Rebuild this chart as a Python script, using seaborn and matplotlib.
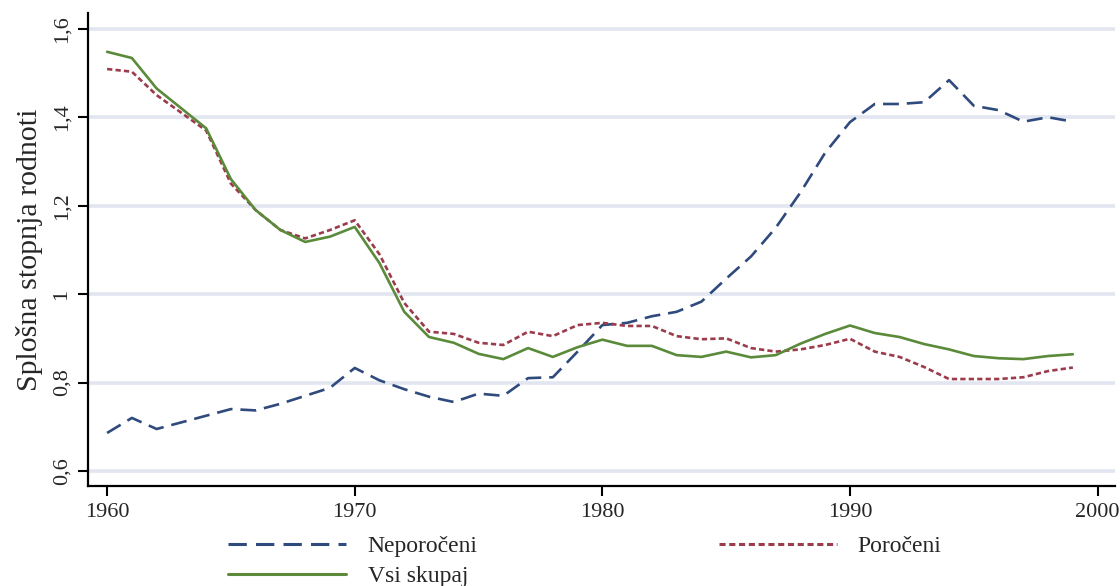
import pandas as pd
import seaborn as sns
import matplotlib.pyplot as plt
from matplotlib.lines import Line2D

years = list(range(1960, 2000))

neporoceni = [0.686, 0.72, 0.695, 0.71, 0.725, 0.74, 0.737, 0.752, 0.77, 0.788,
              0.833, 0.805, 0.785, 0.768, 0.756, 0.775, 0.77, 0.81, 0.812, 0.87,
              0.93, 0.935, 0.95, 0.96, 0.983, 1.035, 1.085, 1.15, 1.23, 1.32,
              1.389, 1.43, 1.43, 1.434, 1.484, 1.426, 1.416, 1.39, 1.40, 1.39]

poroceni = [1.509, 1.503, 1.45, 1.41, 1.37, 1.25, 1.19, 1.145, 1.126, 1.145,
            1.167, 1.09, 0.98, 0.915, 0.91, 0.89, 0.885, 0.915, 0.905, 0.93,
            0.935, 0.928, 0.928, 0.905, 0.898, 0.90, 0.878, 0.87, 0.875, 0.885,
            0.899, 0.87, 0.858, 0.835, 0.808, 0.808, 0.808, 0.812, 0.826, 0.834]

vsi_skupaj = [1.548, 1.534, 1.465, 1.42, 1.375, 1.26, 1.19, 1.145, 1.118, 1.13,
              1.152, 1.07, 0.96, 0.903, 0.89, 0.865, 0.853, 0.878, 0.858, 0.88,
              0.897, 0.883, 0.883, 0.862, 0.858, 0.87, 0.857, 0.862, 0.888, 0.91,
              0.929, 0.912, 0.903, 0.887, 0.875, 0.86, 0.855, 0.853, 0.86, 0.864]

series_names = ["Neporočeni", "Poročeni", "Vsi skupaj"]
x_ticks = [1960, 1970, 1980, 1990, 2000]
y_ticks = [0.6, 0.8, 1.0, 1.2, 1.4, 1.6]
y_tick_labels = ["0,6", "0,8", "1", "1,2", "1,4", "1,6"]
y_label = "Splošna stopnja rodnoti"

colors = {"Neporočeni": "#2f4a7c", "Poročeni": "#9c3b4b", "Vsi skupaj": "#5a8a3a"}
dashes = {"Neporočeni": (6, 3), "Poročeni": (2, 1.2), "Vsi skupaj": ""}


def main():
    df = pd.DataFrame({
        "year": years * 3,
        "value": neporoceni + poroceni + vsi_skupaj,
        "series": [s for s in series_names for _ in years],
    })

    sns.set_style("ticks")
    plt.rcParams["font.family"] = ["Liberation Serif", "DejaVu Serif"]

    fig = plt.figure(figsize=(11.2, 5.86), dpi=100)
    ax = fig.add_axes([0.0786, 0.1706, 0.9169, 0.8074])

    for y in y_ticks:
        ax.axhline(y, color="#e2e6f1", lw=2.6, zorder=0)

    sns.lineplot(data=df, x="year", y="value", hue="series", style="series",
                 palette=colors, dashes=dashes, lw=1.9, legend=False, ax=ax)

    ax.set_xlim(1959.23, 2000.7)
    ax.set_ylim(0.566, 1.636)
    ax.set_xticks(x_ticks)
    ax.set_yticks(y_ticks)
    ax.set_yticklabels(y_tick_labels, rotation=90, va="center")
    ax.tick_params(axis="both", labelsize=16, length=7, width=1.5, color="black",
                   direction="out", pad=5)
    ax.set_xlabel("")
    ax.set_ylabel(y_label, fontsize=21.5, labelpad=7)
    sns.despine(ax=ax)
    for side in ["left", "bottom"]:
        ax.spines[side].set_linewidth(1.6)
        ax.spines[side].set_color("black")

    handles = {}
    for s in series_names:
        handles[s] = Line2D([], [], color=colors[s], lw=2.2,
                            dashes=dashes[s] if dashes[s] else (None, None))
    order = ["Neporočeni", "Vsi skupaj", "Poročeni"]
    ax.legend([handles[s] for s in order], order, ncol=2, frameon=False,
              loc="upper center", bbox_to_anchor=(0.484, -0.085),
              fontsize=17, handlelength=5.0, handletextpad=0.9,
              columnspacing=10.2, labelspacing=0.35, borderaxespad=0)

    fig.savefig("out.png", dpi=100)


if __name__ == "__main__":
    main()
